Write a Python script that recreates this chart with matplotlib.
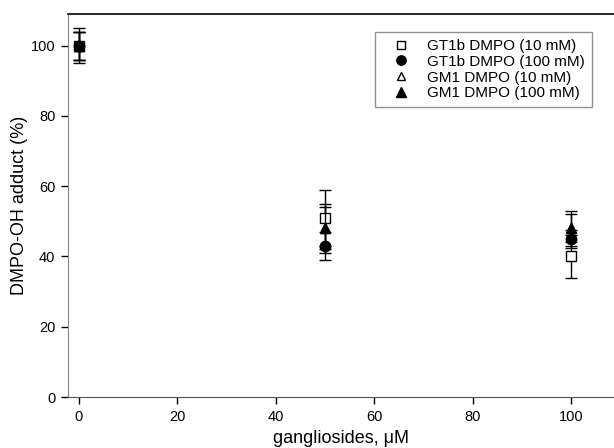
import matplotlib
matplotlib.use("Agg")
import matplotlib.pyplot as plt

plt.rcParams['font.family'] = ['Liberation Sans', 'DejaVu Sans']

x = [0, 50, 100]
gt1b_10 = [100, 51, 40]
gt1b_10_err = [5, 8, 6]
gt1b_100 = [100, 43, 45]
gt1b_100_err = [4, 4, 2.5]
gm1_10 = [100, 48, 48]
gm1_10_err = [4, 6, 4]
gm1_100 = [100, 48, 48]
gm1_100_err = [4, 7, 5]

labels = ['GT1b DMPO (10 mM)', 'GT1b DMPO (100 mM)', 'GM1 DMPO (10 mM)', 'GM1 DMPO (100 mM)']

fig = plt.figure(figsize=(6.14, 4.48), dpi=100)
ax = fig.add_axes([0.1107, 0.1138, 0.8893, 0.855])

ekw = dict(ecolor='black', elinewidth=1.0, capsize=4.5, capthick=1.0, linestyle='none')
h1 = ax.errorbar(x, gt1b_10, yerr=gt1b_10_err, marker='s', ms=6.5, mfc='white', mec='black', mew=1.0, label=labels[0], zorder=3, **ekw)
h3 = ax.errorbar(x, gm1_10, yerr=gm1_10_err, marker='^', ms=7, mfc='white', mec='black', mew=1.0, label=labels[2], zorder=3, **ekw)
h4 = ax.errorbar(x, gm1_100, yerr=gm1_100_err, marker='^', ms=7.5, mfc='black', mec='black', label=labels[3], zorder=4, **ekw)
h2 = ax.errorbar(x, gt1b_100, yerr=gt1b_100_err, marker='o', ms=7.5, mfc='black', mec='black', label=labels[1], zorder=5, **ekw)

ax.set_xlim(-2.2, 108.7)
ax.set_ylim(0, 109)
ax.set_xticks([0, 20, 40, 60, 80, 100])
ax.set_yticks([0, 20, 40, 60, 80, 100])
ax.tick_params(direction='out', length=5, width=1, labelsize=10.5, colors='black', pad=4)
ax.spines['right'].set_visible(False)
ax.spines['left'].set_color('#888888')
ax.spines['bottom'].set_color('#555555')
ax.spines['top'].set_color('black')
ax.spines['top'].set_linewidth(1.2)

ax.set_xlabel('gangliosides, μM', fontsize=13, labelpad=5)
ax.set_ylabel('DMPO-OH adduct (%)', fontsize=13, labelpad=2)

leg = ax.legend([h1[0], h2[0], h3[0], h4[0]], labels, loc='upper right',
                bbox_to_anchor=(0.9597, 0.953), fontsize=11, frameon=True, fancybox=False,
                edgecolor='#777777', borderpad=0.45, labelspacing=0.12, handletextpad=0.45,
                handlelength=2.5, borderaxespad=0, markerscale=0.9)
leg.get_frame().set_linewidth(1.0)

fig.savefig('out.png', dpi=100)
